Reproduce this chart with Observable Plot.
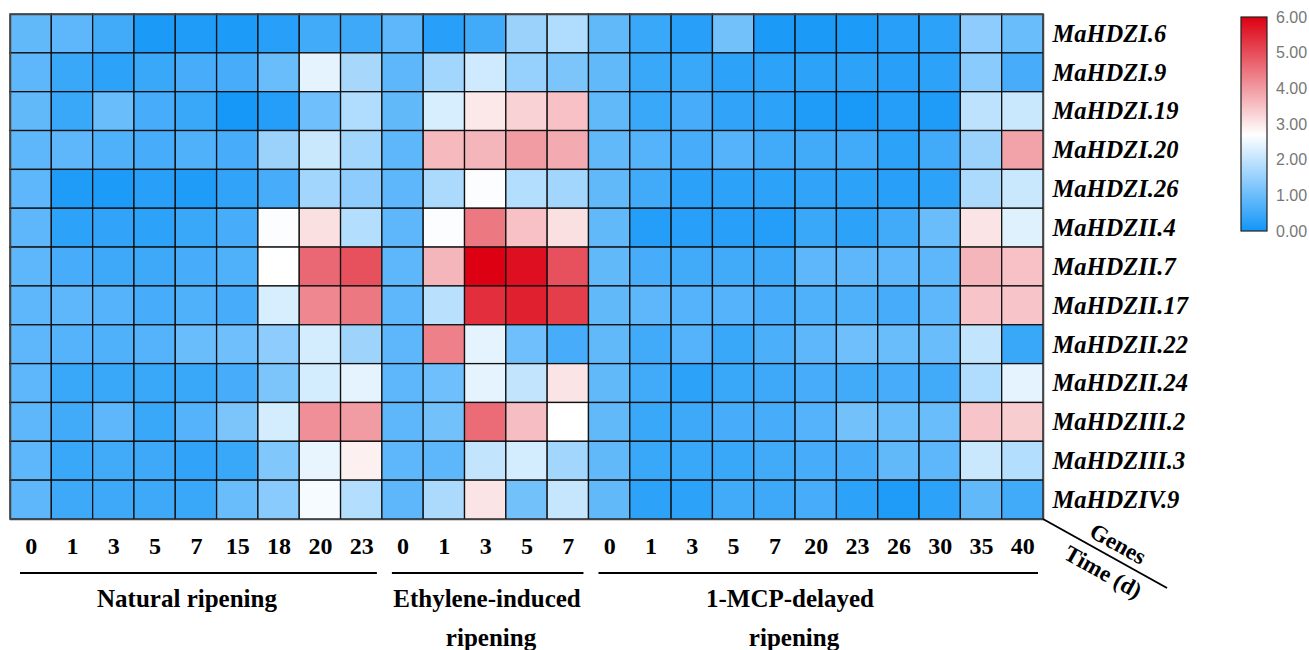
<!DOCTYPE html>
<html>
<head>
<meta charset="utf-8">
<script src="https://cdn.jsdelivr.net/npm/d3@7"></script>
<script src="https://cdn.jsdelivr.net/npm/@observablehq/plot@0.6"></script>
<style>
  html, body { margin: 0; padding: 0; background: #fff; }
  #chart svg { display: block; }
  [aria-label="x-axis tick label"] text { font-family: "Liberation Serif", "Times New Roman", serif; font-weight: bold; font-size: 24px; fill: #000; }
  [aria-label="y-axis tick label"] text { font-family: "Liberation Serif", "Times New Roman", serif; font-weight: bold; font-style: italic; font-size: 24.5px; fill: #000; }
  text.legend-label { font-family: "Liberation Sans", Arial, sans-serif; font-size: 16px; fill: #777; }
</style>
</head>
<body>
<div id="chart"></div>
<script>
// ---- Data ----
const genes = ["MaHDZI.6","MaHDZI.9","MaHDZI.19","MaHDZI.20","MaHDZI.26","MaHDZII.4","MaHDZII.7","MaHDZII.17","MaHDZII.22","MaHDZII.24","MaHDZIII.2","MaHDZIII.3","MaHDZIV.9"];

const naturalTimes = ["0","1","3","5","7","15","18","20","23"];
const ethyleneTimes = ["0","1","3","5","7"];
const mcpTimes = ["0","1","3","5","7","20","23","26","30","35","40"];

const groupNames = ["Natural ripening", "Ethylene-induced\nripening", "1-MCP-delayed\nripening"];

// rows follow genes, columns follow the group's times
const naturalValues = [
  [0.90,0.85,0.55,0.10,0.15,0.12,0.25,0.55,0.50],
  [0.85,0.45,0.30,0.45,0.60,0.60,1.00,2.40,1.70],
  [0.90,0.45,1.00,0.60,0.45,0.05,0.20,1.05,1.80],
  [0.85,0.85,0.70,0.60,0.70,0.60,1.55,2.10,1.65],
  [0.85,0.15,0.12,0.25,0.15,0.35,0.60,1.65,1.40],
  [0.85,0.30,0.35,0.30,0.45,0.60,2.65,3.10,1.85],
  [0.85,0.60,0.50,0.50,0.60,0.70,2.70,4.65,4.95],
  [0.85,0.85,0.75,0.60,0.70,0.60,2.25,4.25,4.45],
  [0.85,0.75,0.70,0.75,1.00,1.05,1.40,2.20,1.60],
  [0.85,0.45,0.45,0.45,0.45,0.60,1.20,2.20,2.40],
  [0.85,0.55,0.85,0.45,0.75,1.20,2.20,4.15,4.00],
  [0.85,0.45,0.55,0.50,0.35,0.45,1.25,2.45,2.90],
  [0.85,0.50,0.50,0.50,0.45,1.00,1.35,2.60,1.85]
];
const ethyleneValues = [
  [0.85,0.25,0.55,1.55,1.80],
  [0.85,1.65,2.15,1.50,1.20],
  [0.90,2.25,3.00,3.28,3.50],
  [0.85,3.60,3.65,4.00,3.80],
  [0.85,1.75,2.65,1.85,1.65],
  [0.85,2.65,4.45,3.50,3.10],
  [0.85,3.65,6.00,5.80,4.95],
  [0.85,1.90,5.40,5.60,5.20],
  [0.85,4.35,2.40,1.05,0.60],
  [0.85,1.05,2.40,2.00,3.05],
  [0.85,1.10,4.60,3.55,2.70],
  [0.85,0.85,2.00,2.20,1.65],
  [0.85,1.75,3.05,1.10,2.05]
];
const mcpValues = [
  [0.90,0.45,0.25,1.10,0.10,0.10,0.12,0.25,0.30,1.40,1.00],
  [0.90,0.45,0.45,0.30,0.30,0.30,0.30,0.25,0.30,1.35,0.60],
  [0.90,0.45,0.60,0.35,0.30,0.15,0.08,0.20,0.15,1.95,2.10],
  [0.90,0.75,0.60,0.75,0.55,0.55,0.55,0.30,0.55,1.55,3.90],
  [0.90,0.55,0.28,0.30,0.30,0.35,0.30,0.25,0.30,1.75,2.10],
  [0.90,0.20,0.25,0.25,0.20,0.45,0.30,0.55,1.00,3.05,2.35],
  [0.90,0.60,0.55,0.55,0.50,0.85,0.85,0.85,0.85,3.65,3.50],
  [0.90,0.85,0.75,0.75,0.60,0.70,0.70,0.60,0.85,3.45,3.45],
  [0.90,0.55,0.75,0.45,0.65,0.85,1.05,1.00,1.00,2.00,0.45],
  [0.90,0.55,0.30,0.45,0.50,0.60,0.55,0.60,0.55,1.80,2.40],
  [0.90,0.45,0.50,0.60,0.60,0.75,1.10,1.00,1.00,3.45,3.35],
  [0.90,0.45,0.45,0.45,0.55,0.60,0.60,0.90,0.85,2.10,1.85],
  [0.90,0.30,0.30,0.55,0.50,0.60,0.30,0.15,0.30,0.90,0.55]
];

const legendTicks = [0, 1, 2, 3, 4, 5, 6];
const colorDomain = [0, 2.7, 6];
const colorRange = ["#1296f8", "#ffffff", "#dc0012"];

// ---- Build table ----
const groups = [
  {id: "N", times: naturalTimes, values: naturalValues},
  {id: "E", times: ethyleneTimes, values: ethyleneValues},
  {id: "M", times: mcpTimes, values: mcpValues}
];
const columns = groups.flatMap(g => g.times.map(t => g.id + "-" + t));
const cells = [];
groups.forEach(g => {
  g.values.forEach((row, gi) => {
    row.forEach((v, ti) => cells.push({gene: genes[gi], col: g.id + "-" + g.times[ti], value: v}));
  });
});

const W = 1309, H = 650;
const chart = Plot.plot({
  width: W,
  height: H,
  marginLeft: 10,
  marginRight: 266,
  marginTop: 14,
  marginBottom: 131,
  x: {type: "band", domain: columns, padding: 0, round: false},
  y: {type: "band", domain: genes, padding: 0, round: false},
  color: {type: "linear", domain: colorDomain, range: colorRange, interpolate: "rgb"},
  style: {fontFamily: "Liberation Serif, serif", background: "#fff"},
  marks: [
    Plot.cell(cells, {x: "col", y: "gene", fill: "value", stroke: "#111", strokeWidth: 1.3}),
    Plot.frame({stroke: "#444", strokeWidth: 1.5}),
    Plot.axisX({anchor: "bottom", tickSize: 0, tickPadding: 17, label: null,
      tickFormat: k => k.split("-")[1]}),
    Plot.axisY({anchor: "right", tickSize: 0, tickPadding: 9, label: null})
  ]
});
document.getElementById("chart").appendChild(chart);

// ---- Annotations: group lines & labels, corner label, vertical legend ----
const xs = chart.scale("x");
const xb = d3.scaleBand().domain(xs.domain).range(xs.range).padding(0);
const ys = chart.scale("y");
const svg = d3.select(chart);
const ann = svg.append("g").attr("font-family", "Liberation Serif, Times New Roman, serif")
  .attr("font-weight", "bold").attr("fill", "#000").attr("text-anchor", "middle");

const labelCenters = [187, 487, 790];
groups.forEach((g, i) => {
  const x0 = xb(g.id + "-" + g.times[0]) + 10;
  const x1 = xb(g.id + "-" + g.times[g.times.length - 1]) + xb.bandwidth() - 5;
  ann.append("line").attr("x1", x0).attr("x2", x1).attr("y1", 573).attr("y2", 573)
    .attr("stroke", "#000").attr("stroke-width", 2);
  groupNames[i].split("\n").forEach((line, li) => {
    ann.append("text").attr("x", labelCenters[i] + li * 4).attr("y", 598 + li * 39)
      .attr("dominant-baseline", "central")
      .attr("font-size", 25).text(line);
  });
});

// corner diagonal
const xEnd = xs.range[1], yEnd = ys.range[1];
ann.append("line").attr("x1", xEnd).attr("y1", yEnd).attr("x2", xEnd + 124).attr("y2", yEnd + 69)
  .attr("stroke", "#000").attr("stroke-width", 2);
const ang = Math.atan2(69, 124) * 180 / Math.PI;
ann.append("text").attr("transform", `translate(${xEnd + 75},${yEnd + 25}) rotate(${ang})`)
  .attr("dominant-baseline", "central").attr("font-size", 23).text("Genes");
ann.append("text").attr("transform", `translate(${xEnd + 60},${yEnd + 53}) rotate(${ang})`)
  .attr("dominant-baseline", "central").attr("font-size", 23).text("Time (d)");

// vertical color legend
const lx = 1241, lw = 26, ly0 = 17, ly1 = 231;
const ly = d3.scaleLinear().domain([0, 6]).range([ly1, ly0]);
const defs = svg.append("defs");
const grad = defs.append("linearGradient").attr("id", "lg").attr("x1", 0).attr("y1", 1).attr("x2", 0).attr("y2", 0);
colorDomain.forEach((d, i) => grad.append("stop").attr("offset", d / 6).attr("stop-color", colorRange[i]));
const leg = svg.append("g").attr("text-anchor", "start");
leg.append("rect").attr("x", lx).attr("y", ly0).attr("width", lw).attr("height", ly1 - ly0)
  .attr("fill", "url(#lg)").attr("stroke", "#222").attr("stroke-width", 1.2);
legendTicks.forEach(t => {
  leg.append("text").attr("class", "legend-label").attr("x", lx + lw + 9).attr("y", ly(t))
    .attr("text-anchor", "start").attr("dominant-baseline", "central")
    .text(t.toFixed(2));
});
</script>
</body>
</html>
